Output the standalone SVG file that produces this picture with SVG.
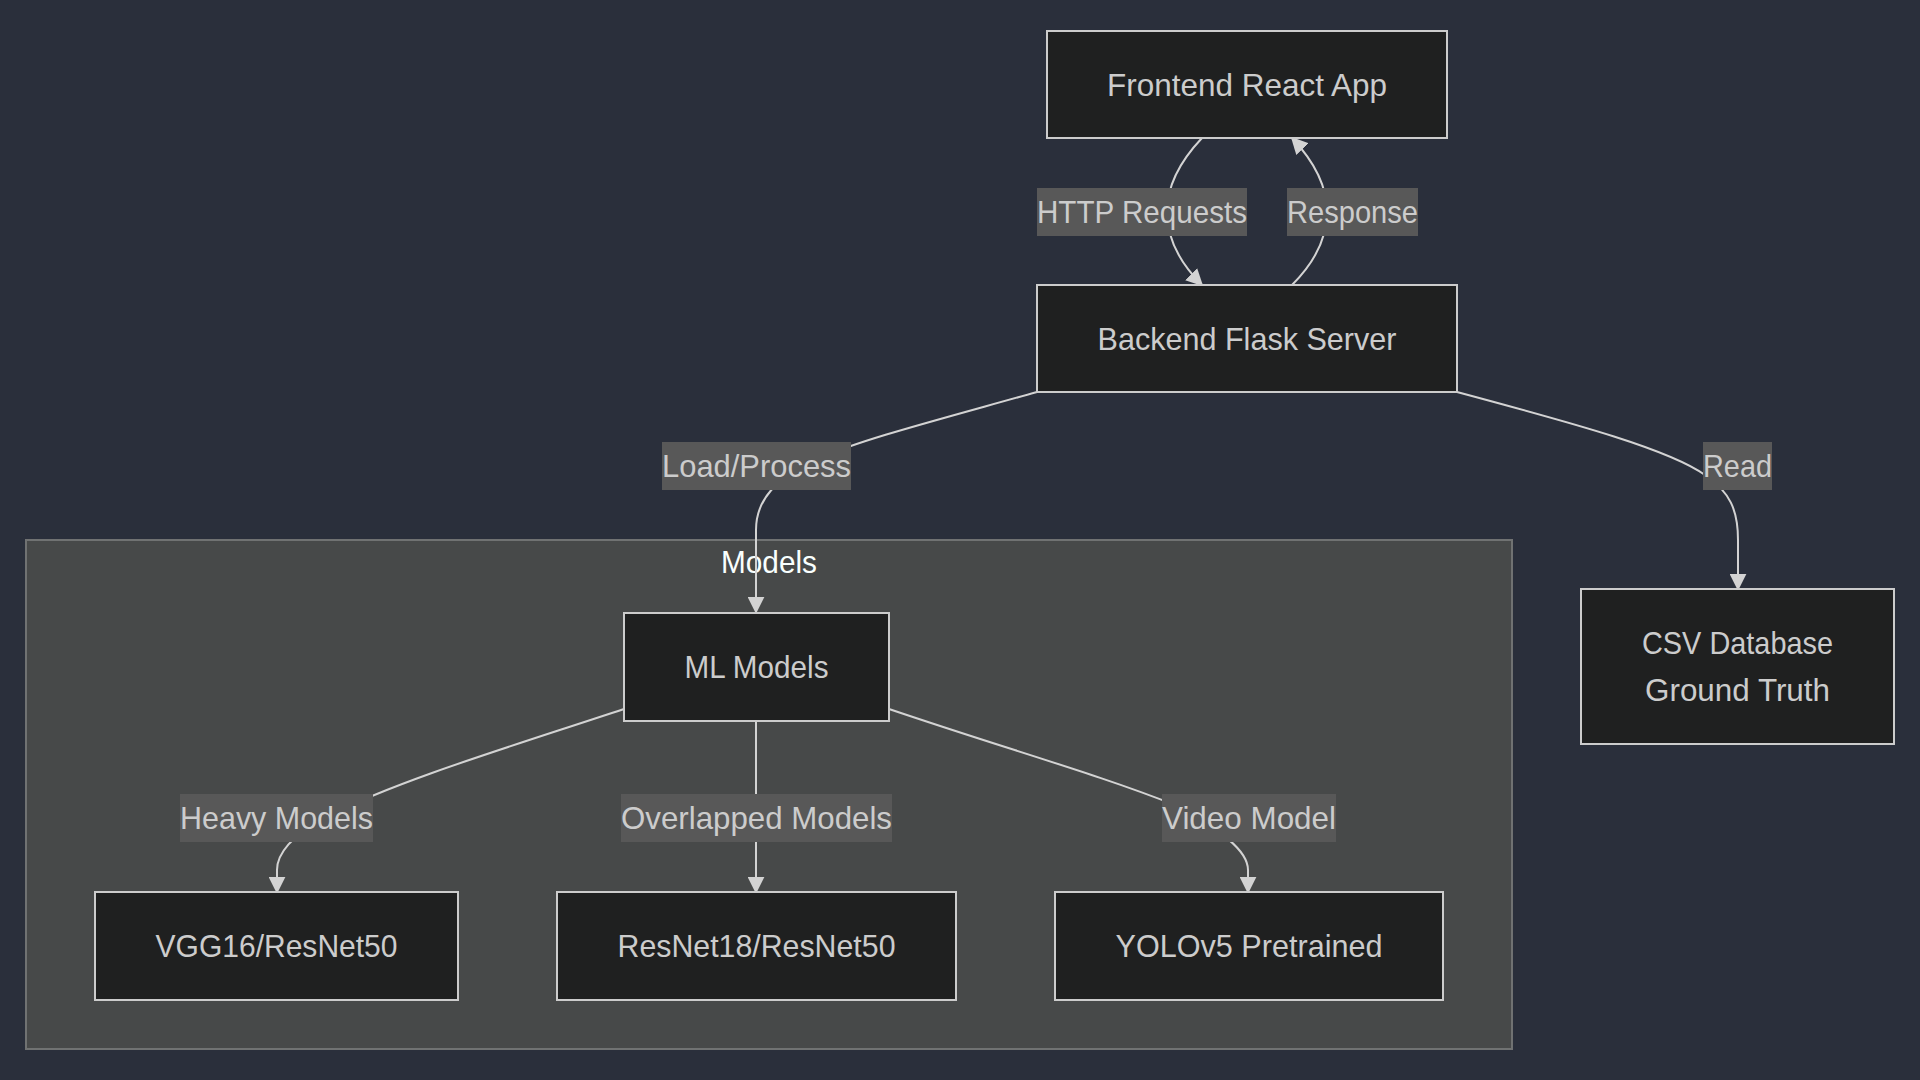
<svg xmlns="http://www.w3.org/2000/svg" width="1920" height="1080" viewBox="0 0 1920 1080">
<style>
.node rect{fill:#1f2020;stroke:#cccccc;stroke-width:2}
.node text,.lbl text{font-family:"Liberation Sans",Arial,sans-serif;font-size:32px;fill:#cccccc;text-anchor:middle}
.lbl rect{fill:#585858}
.edge{fill:none;stroke:#d3d3d3;stroke-width:2}
.title{font-family:"Liberation Sans",Arial,sans-serif;font-size:32px;fill:#f9fffe;text-anchor:middle}
</style>
<defs>
<marker id="arr" viewBox="0 0 10 10" refX="9" refY="5" markerWidth="17" markerHeight="17" markerUnits="userSpaceOnUse" orient="auto">
<path d="M0,0 L10,5 L0,10 z" fill="#d3d3d3"/>
</marker>
</defs>
<rect x="0" y="0" width="1920" height="1080" fill="#2a2f3b"/>
<g id="cluster-models">
<rect x="26" y="540" width="1486" height="509" fill="#474949" stroke="#707272" stroke-width="2"/>
<text class="title" x="769" y="573" textLength="96" lengthAdjust="spacingAndGlyphs">Models</text>
</g>
<g id="connectors">
<path class="edge" d="M1202,138 Q1167,175 1167,212 Q1167,250 1202,285" marker-end="url(#arr)"/>
<path class="edge" d="M1292,285 Q1327,250 1327,212 Q1327,175 1292,138" marker-end="url(#arr)"/>
<path class="edge" d="M1037,392 C930,422 860,440 820,458 C775,478 756,500 756,530 L756,612" marker-end="url(#arr)"/>
<path class="edge" d="M1457,392 C1580,425 1670,450 1705,475 C1730,492 1738,510 1738,540 L1738,589" marker-end="url(#arr)"/>
<path class="edge" d="M624,709 C500,750 400,780 330,815 C290,835 277,855 277,870 L277,892" marker-end="url(#arr)"/>
<path class="edge" d="M756,721 L756,892" marker-end="url(#arr)"/>
<path class="edge" d="M889,709 C1010,750 1100,775 1175,805 C1220,830 1248,850 1248,870 L1248,892" marker-end="url(#arr)"/>
<g class="lbl">
<rect x="1037" y="188" width="210" height="48"/><text x="1142" y="223" textLength="210" lengthAdjust="spacingAndGlyphs">HTTP Requests</text>
<rect x="1287" y="188" width="131" height="48"/><text x="1352.5" y="223" textLength="131" lengthAdjust="spacingAndGlyphs">Response</text>
<rect x="662" y="442" width="189" height="48"/><text x="756.5" y="477" textLength="189" lengthAdjust="spacingAndGlyphs">Load/Process</text>
<rect x="1703" y="442" width="69" height="48"/><text x="1737.5" y="477" textLength="69" lengthAdjust="spacingAndGlyphs">Read</text>
<rect x="180" y="794" width="193" height="48"/><text x="276.5" y="829" textLength="193" lengthAdjust="spacingAndGlyphs">Heavy Models</text>
<rect x="621" y="794" width="271" height="48"/><text x="756.5" y="829" textLength="271" lengthAdjust="spacingAndGlyphs">Overlapped Models</text>
<rect x="1162" y="794" width="174" height="48"/><text x="1249" y="829" textLength="174" lengthAdjust="spacingAndGlyphs">Video Model</text>
</g>
</g>
<g id="frontend" class="node"><rect x="1047" y="31" width="400" height="107"/><text x="1247" y="96" textLength="280" lengthAdjust="spacingAndGlyphs">Frontend React App</text></g>
<g id="backend" class="node"><rect x="1037" y="285" width="420" height="107"/><text x="1247" y="350" textLength="299" lengthAdjust="spacingAndGlyphs">Backend Flask Server</text></g>
<g id="csv" class="node"><rect x="1581" y="589" width="313" height="155"/><text x="1737.5" y="654" textLength="191" lengthAdjust="spacingAndGlyphs">CSV Database</text><text x="1737.5" y="701" textLength="185" lengthAdjust="spacingAndGlyphs">Ground Truth</text></g>
<g id="ml-models" class="node"><rect x="624" y="613" width="265" height="108"/><text x="756.5" y="678" textLength="144" lengthAdjust="spacingAndGlyphs">ML Models</text></g>
<g id="vgg" class="node"><rect x="95" y="892" width="363" height="108"/><text x="276.5" y="957" textLength="242" lengthAdjust="spacingAndGlyphs">VGG16/ResNet50</text></g>
<g id="resnet" class="node"><rect x="557" y="892" width="399" height="108"/><text x="756.5" y="957" textLength="278" lengthAdjust="spacingAndGlyphs">ResNet18/ResNet50</text></g>
<g id="yolo" class="node"><rect x="1055" y="892" width="388" height="108"/><text x="1249" y="957" textLength="267" lengthAdjust="spacingAndGlyphs">YOLOv5 Pretrained</text></g>
</svg>
